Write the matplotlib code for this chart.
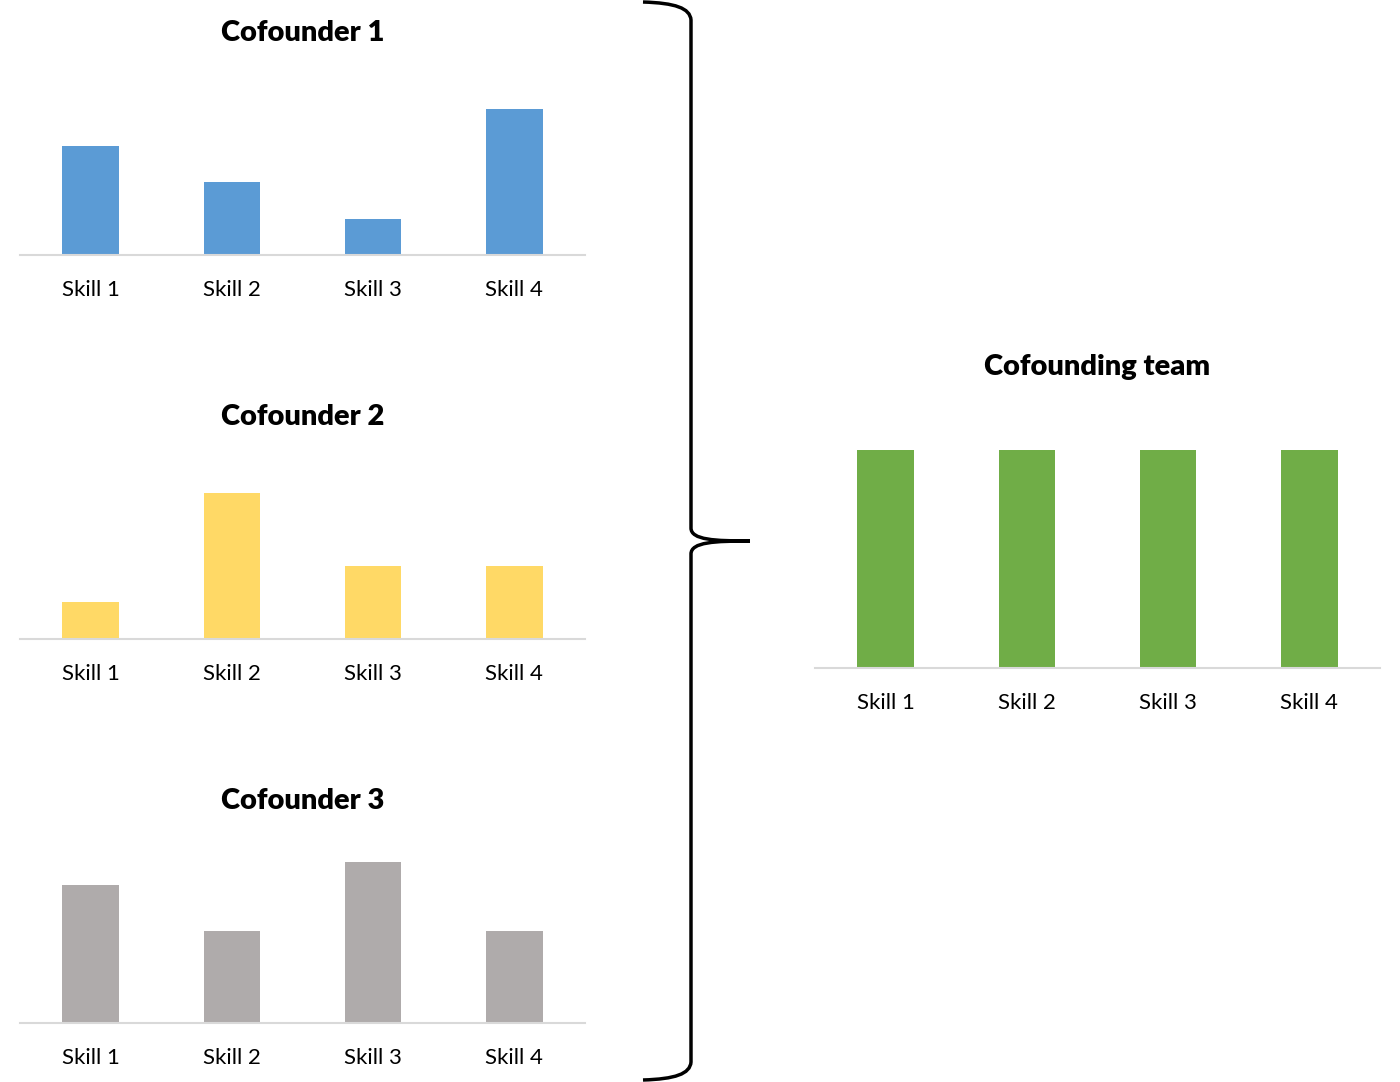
import matplotlib.pyplot as plt
from matplotlib.path import Path
from matplotlib.patches import PathPatch

plt.rcParams['font.family'] = ['Lato', 'DejaVu Sans']

skills = ["Skill 1", "Skill 2", "Skill 3", "Skill 4"]
cofounder1 = [3, 2, 1, 4]
cofounder2 = [1, 4, 2, 2]
cofounder3 = [6, 4, 7, 4]
team = [5, 5, 5, 5]

W, H = 1400, 1082
fig = plt.figure(figsize=(14, 10.82), dpi=100)


def px_axes(left, top, right, bottom):
    return fig.add_axes([left / W, 1 - bottom / H, (right - left) / W, (bottom - top) / H])


def bar_chart(ax, values, color, ymax, title, title_y):
    ax.bar(skills, values, width=0.4, color=color)
    ax.set_xlim(-0.5, 3.5)
    ax.set_ylim(0, ymax)
    for s in ["top", "right", "left"]:
        ax.spines[s].set_visible(False)
    ax.spines["bottom"].set_color("#d9d9d9")
    ax.spines["bottom"].set_linewidth(1.5)
    ax.set_yticks([])
    ax.tick_params(axis="x", length=0, labelsize=16, pad=18)
    pos = ax.get_position()
    fig.text(pos.x0 + pos.width / 2, 1 - title_y / H, title, ha="center", va="center",
             fontsize=21, fontweight="heavy")


ax1 = px_axes(20, 75, 585, 255)
bar_chart(ax1, cofounder1, "#5b9bd5", 180 / 36.5, "Cofounder 1", 33)
ax2 = px_axes(20, 459, 585, 639)
bar_chart(ax2, cofounder2, "#ffd966", 180 / 36.6, "Cofounder 2", 417)
ax3 = px_axes(20, 843, 585, 1023)
bar_chart(ax3, cofounder3, "#afabab", 180 / 23, "Cofounder 3", 801)
ax4 = px_axes(815, 430, 1380, 668)
bar_chart(ax4, team, "#70ad47", 238 / 43.6, "Cofounding team", 367)

# curly brace
over = fig.add_axes([0, 0, 1, 1])
over.set_xlim(0, W)
over.set_ylim(H, 0)
over.axis("off")
verts = [
    (643, 2), (675, 3), (690, 8), (691, 20),
    (691, 528),
    (691, 540), (715, 541), (750, 541),
    (715, 541), (691, 542), (691, 554),
    (691, 1062),
    (690, 1074), (675, 1079), (643, 1080),
]
codes = [Path.MOVETO, Path.CURVE4, Path.CURVE4, Path.CURVE4,
         Path.LINETO,
         Path.CURVE4, Path.CURVE4, Path.CURVE4,
         Path.CURVE4, Path.CURVE4, Path.CURVE4,
         Path.LINETO,
         Path.CURVE4, Path.CURVE4, Path.CURVE4]
over.add_patch(PathPatch(Path(verts, codes), facecolor="none", edgecolor="black", lw=2.5))

plt.savefig("out.png")
